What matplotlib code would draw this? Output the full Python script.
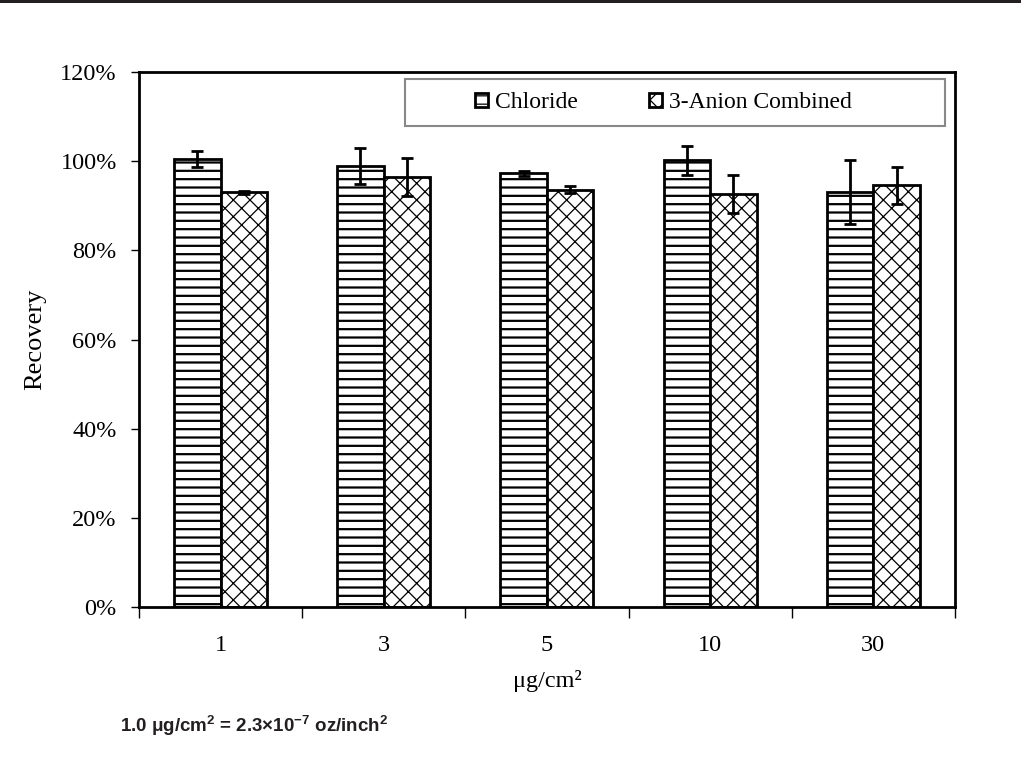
import numpy as np
import matplotlib
matplotlib.use("Agg")
import matplotlib.pyplot as plt
from matplotlib.patches import Rectangle

# data
categories = ["1", "3", "5", "10", "30"]
chloride = [100.4, 98.9, 97.3, 100.2, 93.1]
chloride_err = [1.8, 4.1, 0.6, 3.2, 7.2]
anion = [93.0, 96.5, 93.6, 92.6, 94.6]
anion_err = [0.3, 4.2, 0.8, 4.2, 4.2]
y_ticks = [0, 20, 40, 60, 80, 100, 120]

plt.rcParams["font.family"] = ["Liberation Serif", "DejaVu Serif"]
plt.rcParams["hatch.linewidth"] = 1.6
plt.rcParams["mathtext.fontset"] = "custom"
plt.rcParams["mathtext.rm"] = "Liberation Sans:bold"
plt.rcParams["mathtext.it"] = "Liberation Sans:bold"
plt.rcParams["mathtext.bf"] = "Liberation Sans:bold"

fig = plt.figure(figsize=(10.21, 7.71), dpi=100)
ax = fig.add_axes([0.1361, 0.2127, 0.7992, 0.6939])

# dark band at the very top
fig.patches.append(Rectangle((0, 0.996), 1, 0.004, transform=fig.transFigure,
                             facecolor="#231f20", edgecolor="none"))

x = np.arange(len(categories))
w = 0.285
ax.bar(x - w / 2, chloride, w, color="white", edgecolor="black", linewidth=2,
       hatch="--", label="Chloride")
plt.rcParams["hatch.linewidth"] = 0.9
ax.bar(x + w / 2, anion, w, color="white", edgecolor="black", linewidth=2,
       hatch="xx", label="3-Anion Combined")
ax.errorbar(x - w / 2, chloride, yerr=chloride_err, fmt="none", ecolor="black",
            elinewidth=2, capsize=4, capthick=2)
ax.errorbar(x + w / 2, anion, yerr=anion_err, fmt="none", ecolor="black",
            elinewidth=2, capsize=4, capthick=2)

ax.set_xlim(-0.5, len(categories) - 0.5)
ax.set_ylim(0, 120)
ax.set_yticks(y_ticks)
ax.set_yticklabels([f"{t}%" for t in y_ticks], fontsize=17.5)
ax.set_xticks(x)
ax.set_xticklabels(categories, fontsize=17.5)
ax.tick_params(axis="x", which="major", length=0, pad=20)
ax.set_xticks(np.arange(-0.5, len(categories)), minor=True)
ax.tick_params(axis="x", which="minor", length=8, width=1, direction="out")
ax.tick_params(axis="y", length=6, width=1, direction="out", pad=10)
for s in ax.spines.values():
    s.set_linewidth(2)

ax.set_ylabel("Recovery", fontsize=19, labelpad=10)
ax.set_xlabel("μg/cm²", fontsize=17.5, labelpad=10)

# legend box
ax.add_patch(Rectangle((0.326, 0.899), 0.662, 0.088, transform=ax.transAxes,
                       facecolor="white", edgecolor="#888888", linewidth=1.5,
                       zorder=5))
leg = ax.legend(loc="center", bbox_to_anchor=(0.643, 0.943), ncol=2,
                frameon=False, fontsize=17, handlelength=0.55, handleheight=0.55,
                handletextpad=0.3, columnspacing=3.0)
leg.set_zorder(6)

fig.text(0.1175, 0.050, "1.0 μg/cm$^{2}$ = 2.3×10$^{-7}$ oz/inch$^{2}$",
         fontsize=13.5, fontweight="bold", family="Liberation Sans", color="#231f20")

plt.savefig("out.png", dpi=100)
